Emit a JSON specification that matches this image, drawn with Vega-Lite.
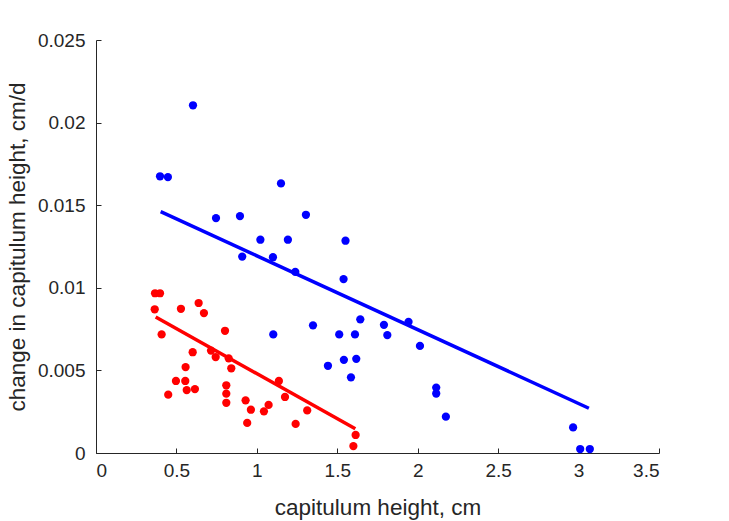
{
  "$schema": "https://vega.github.io/schema/vega-lite/v6.json",
  "width": 563,
  "height": 413,
  "padding": {"left": 96, "top": 40, "right": 70, "bottom": 68},
  "autosize": {"type": "none"},
  "background": "white",
  "config": {
    "view": {"stroke": null},
    "font": "Liberation Sans",
    "axis": {
      "domainColor": "#262626",
      "tickColor": "#262626",
      "labelColor": "#262626",
      "titleColor": "#262626",
      "labelFont": "Liberation Sans",
      "titleFont": "Liberation Sans",
      "labelFontSize": 19,
      "titleFontSize": 22.5,
      "titleFontWeight": "normal",
      "grid": false,
      "tickSize": -5,
      "domainWidth": 1,
      "tickWidth": 1
    }
  },
  "datasets": {
    "pts": [
      {"x": 0.603, "y": 0.02105, "g": "A"},
      {"x": 0.398, "y": 0.01675, "g": "A"},
      {"x": 0.447, "y": 0.01670, "g": "A"},
      {"x": 1.150, "y": 0.01632, "g": "A"},
      {"x": 0.746, "y": 0.01422, "g": "A"},
      {"x": 0.895, "y": 0.01434, "g": "A"},
      {"x": 1.305, "y": 0.01442, "g": "A"},
      {"x": 1.022, "y": 0.01291, "g": "A"},
      {"x": 1.193, "y": 0.01291, "g": "A"},
      {"x": 1.551, "y": 0.01285, "g": "A"},
      {"x": 0.909, "y": 0.01189, "g": "A"},
      {"x": 1.100, "y": 0.01185, "g": "A"},
      {"x": 1.239, "y": 0.01096, "g": "A"},
      {"x": 1.539, "y": 0.01053, "g": "A"},
      {"x": 1.643, "y": 0.00809, "g": "A"},
      {"x": 1.943, "y": 0.00794, "g": "A"},
      {"x": 1.349, "y": 0.00773, "g": "A"},
      {"x": 1.790, "y": 0.00776, "g": "A"},
      {"x": 1.102, "y": 0.00718, "g": "A"},
      {"x": 1.512, "y": 0.00718, "g": "A"},
      {"x": 1.610, "y": 0.00718, "g": "A"},
      {"x": 1.811, "y": 0.00714, "g": "A"},
      {"x": 2.014, "y": 0.00648, "g": "A"},
      {"x": 1.541, "y": 0.00564, "g": "A"},
      {"x": 1.618, "y": 0.00570, "g": "A"},
      {"x": 1.585, "y": 0.00458, "g": "A"},
      {"x": 1.442, "y": 0.00528, "g": "A"},
      {"x": 2.115, "y": 0.00396, "g": "A"},
      {"x": 2.115, "y": 0.00360, "g": "A"},
      {"x": 2.175, "y": 0.00220, "g": "A"},
      {"x": 2.966, "y": 0.00155, "g": "A"},
      {"x": 3.010, "y": 0.00024, "g": "A"},
      {"x": 3.070, "y": 0.00024, "g": "A"},
      {"x": 0.367, "y": 0.00967, "g": "B"},
      {"x": 0.398, "y": 0.00967, "g": "B"},
      {"x": 0.365, "y": 0.00870, "g": "B"},
      {"x": 0.528, "y": 0.00873, "g": "B"},
      {"x": 0.638, "y": 0.00908, "g": "B"},
      {"x": 0.671, "y": 0.00847, "g": "B"},
      {"x": 0.408, "y": 0.00718, "g": "B"},
      {"x": 0.802, "y": 0.00740, "g": "B"},
      {"x": 0.601, "y": 0.00610, "g": "B"},
      {"x": 0.715, "y": 0.00620, "g": "B"},
      {"x": 0.744, "y": 0.00581, "g": "B"},
      {"x": 0.825, "y": 0.00573, "g": "B"},
      {"x": 0.841, "y": 0.00513, "g": "B"},
      {"x": 0.557, "y": 0.00520, "g": "B"},
      {"x": 0.497, "y": 0.00436, "g": "B"},
      {"x": 0.555, "y": 0.00436, "g": "B"},
      {"x": 0.564, "y": 0.00381, "g": "B"},
      {"x": 0.615, "y": 0.00387, "g": "B"},
      {"x": 0.449, "y": 0.00353, "g": "B"},
      {"x": 0.810, "y": 0.00410, "g": "B"},
      {"x": 0.810, "y": 0.00359, "g": "B"},
      {"x": 0.810, "y": 0.00304, "g": "B"},
      {"x": 1.137, "y": 0.00436, "g": "B"},
      {"x": 1.175, "y": 0.00339, "g": "B"},
      {"x": 0.930, "y": 0.00319, "g": "B"},
      {"x": 0.963, "y": 0.00262, "g": "B"},
      {"x": 1.073, "y": 0.00291, "g": "B"},
      {"x": 1.044, "y": 0.00252, "g": "B"},
      {"x": 0.940, "y": 0.00182, "g": "B"},
      {"x": 1.241, "y": 0.00176, "g": "B"},
      {"x": 1.313, "y": 0.00258, "g": "B"},
      {"x": 1.614, "y": 0.00109, "g": "B"},
      {"x": 1.600, "y": 0.00042, "g": "B"}
    ],
    "fits": [
      {"x": 0.402, "y": 0.01461, "g": "A"},
      {"x": 3.064, "y": 0.00271, "g": "A"},
      {"x": 0.371, "y": 0.00823, "g": "B"},
      {"x": 1.612, "y": 0.00147, "g": "B"}
    ]
  },
  "layer": [
    {
      "data": {"name": "pts"},
      "mark": {"type": "circle", "size": 68, "opacity": 1},
      "encoding": {
        "x": {
          "field": "x", "type": "quantitative",
          "scale": {"domain": [0, 3.5], "nice": false, "zero": false},
          "axis": {"values": [0, 0.5, 1, 1.5, 2, 2.5, 3, 3.5], "format": "~g", "title": "capitulum height, cm", "labelPadding": 13, "titlePadding": 16}
        },
        "y": {
          "field": "y", "type": "quantitative",
          "scale": {"domain": [0, 0.025], "nice": false, "zero": false},
          "axis": {"values": [0, 0.005, 0.01, 0.015, 0.02, 0.025], "format": "~g", "title": "change in capitulum height, cm/d", "labelPadding": 16, "titlePadding": 8}
        },
        "color": {
          "field": "g", "type": "nominal",
          "scale": {"domain": ["A", "B"], "range": ["#0000ff", "#ff0000"]},
          "legend": null
        }
      }
    },
    {
      "data": {"name": "fits"},
      "mark": {"type": "line", "strokeWidth": 3.5, "strokeCap": "butt"},
      "encoding": {
        "x": {"field": "x", "type": "quantitative"},
        "y": {"field": "y", "type": "quantitative"},
        "detail": {"field": "g"},
        "color": {"field": "g", "type": "nominal", "legend": null}
      }
    }
  ]
}
